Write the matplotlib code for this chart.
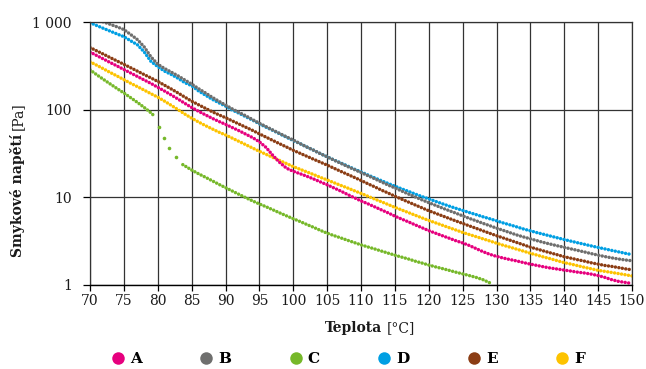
import matplotlib
matplotlib.use("Agg")
import matplotlib.pyplot as plt
from matplotlib.lines import Line2D

# temperatures [°C], one reading per degree
temps = list(range(70, 151))

shear_a = [455, 414, 378, 344, 315, 287, 262, 239, 218, 199,
           180, 163, 147, 132, 118, 106, 96, 87.5, 80, 73.5,
           68, 62.5, 57.5, 52.5, 48, 43, 37, 30, 25, 21.5,
           19.8, 18.6, 17.4, 16.2, 15.0, 13.9, 12.8, 11.8, 10.8, 9.9,
           9.1, 8.45, 7.8, 7.2, 6.65, 6.1, 5.65, 5.25, 4.85, 4.5,
           4.17, 3.9, 3.65, 3.42, 3.2, 3.02, 2.82, 2.6, 2.4, 2.24,
           2.12, 2.03, 1.95, 1.88, 1.80, 1.73, 1.67, 1.61, 1.56, 1.52,
           1.48, 1.44, 1.40, 1.37, 1.33, 1.28, 1.22, 1.15, 1.10, 1.07, 1.04]

shear_b = [1150, 1070, 1000, 940, 880, 820, 720, 630, 520, 400,
           330, 295, 268, 243, 218, 196, 174, 156, 139, 125,
           113, 102, 93, 85, 77, 70, 64, 58.5, 53.5, 49,
           45, 41, 37.5, 34.5, 31.5, 29, 26.6, 24.5, 22.5, 20.8,
           19.2, 17.7, 16.3, 15, 13.8, 12.8, 11.8, 10.9, 10.1, 9.35,
           8.7, 8.1, 7.55, 7.05, 6.6, 6.15, 5.75, 5.4, 5.05, 4.75,
           4.45, 4.2, 3.95, 3.72, 3.53, 3.36, 3.2, 3.05, 2.92, 2.8,
           2.69, 2.58, 2.48, 2.38, 2.28, 2.19, 2.11, 2.04, 1.98, 1.93, 1.89]

# C is sampled more sparsely where it drops steeply after 80 °C
temps_c = list(range(70, 80)) + [79.6, 80.2, 80.9, 81.7, 82.7, 83.7] + list(range(85, 130))
shear_c = [285, 250, 221, 196, 174, 155, 137, 121, 106, 92,
           83, 64, 48, 37, 29, 23.6,
           20.5, 18.6, 17, 15.5, 14.1, 12.9, 11.8, 10.8, 9.9, 9.1,
           8.4, 7.8, 7.2, 6.65, 6.15, 5.7, 5.3, 4.9, 4.55, 4.2,
           3.9, 3.66, 3.45, 3.24, 3.05, 2.87, 2.72, 2.58, 2.44, 2.31,
           2.19, 2.08, 1.98, 1.87, 1.78, 1.69, 1.61, 1.54, 1.47, 1.40,
           1.34, 1.28, 1.22, 1.15, 1.06]
c_sparse = (80.0, 83.0)

shear_d = [985, 910, 845, 785, 730, 680, 610, 550, 455, 355,
           310, 275, 252, 228, 203, 188, 164, 147, 132, 120,
           110, 99, 91, 83, 76, 69, 63, 58, 53, 48.5,
           44.5, 41, 37.5, 34.5, 31.5, 29, 26.7, 24.7, 22.8, 21,
           19.5, 18, 16.7, 15.5, 14.4, 13.4, 12.5, 11.7, 10.9, 10.2,
           9.6, 9.0, 8.45, 7.95, 7.5, 7.1, 6.7, 6.35, 6.0, 5.7,
           5.4, 5.1, 4.85, 4.6, 4.35, 4.15, 3.95, 3.78, 3.61, 3.45,
           3.3, 3.16, 3.03, 2.91, 2.79, 2.68, 2.58, 2.48, 2.39, 2.3, 2.22]

shear_e = [512, 468, 429, 392, 359, 329, 301, 275, 251, 230,
           210, 190, 172, 155, 139, 125, 114, 104, 95, 87.5,
           81, 74.5, 68.5, 63, 58, 53, 48.5, 44.5, 40.8, 37.5,
           34.4, 31.8, 29.4, 27.2, 25.2, 23.3, 21.5, 19.8, 18.3, 16.9,
           15.6, 14.3, 13.2, 12.1, 11.2, 10.3, 9.53, 8.83, 8.18, 7.59,
           7.03, 6.58, 6.15, 5.75, 5.38, 5.04, 4.72, 4.43, 4.15, 3.89,
           3.65, 3.44, 3.24, 3.05, 2.87, 2.70, 2.57, 2.44, 2.32, 2.21,
           2.10, 2.02, 1.94, 1.87, 1.79, 1.73, 1.67, 1.63, 1.58, 1.53, 1.49]

shear_f = [352, 321, 292, 265, 242, 220, 200, 183, 167, 152,
           139, 125, 112, 100, 89, 80, 72.5, 66, 60.5, 55.5,
           51.5, 47.3, 43.4, 39.8, 36.5, 33.5, 30.9, 28.5, 26.3, 24.3,
           22.4, 20.9, 19.5, 18.2, 16.9, 15.8, 14.7, 13.7, 12.8, 11.9,
           11.1, 10.3, 9.57, 8.91, 8.28, 7.69, 7.18, 6.70, 6.25, 5.83,
           5.45, 5.12, 4.81, 4.51, 4.24, 3.98, 3.76, 3.56, 3.36, 3.18,
           3.0, 2.84, 2.70, 2.56, 2.43, 2.30, 2.19, 2.08, 1.99, 1.89,
           1.80, 1.73, 1.66, 1.59, 1.53, 1.47, 1.43, 1.39, 1.35, 1.31, 1.27]

labels = ["A", "B", "C", "D", "E", "F"]
colors = {"A": "#e6007e", "B": "#6f6f6e", "C": "#76b82a",
          "D": "#009fe3", "E": "#8b3d14", "F": "#fdc300"}

x_ticks = list(range(70, 151, 5))
y_ticks = [1, 10, 100, 1000]
y_tick_labels = ["1", "10", "100", "1 000"]

plt.rcParams["font.family"] = "DejaVu Serif"
plt.rcParams["font.size"] = 10

W, H = 646, 369
fig = plt.figure(figsize=(W / 100, H / 100), dpi=100)
ax = fig.add_axes([90 / W, 1 - 285 / H, 542 / W, 263 / H])
ax.set_yscale("log")

dotted = dict(linestyle=(0, (0.01, 1.0)), linewidth=2.5,
              dash_capstyle="round", solid_capstyle="round")

series = {"A": shear_a, "B": shear_b, "D": shear_d, "E": shear_e, "F": shear_f}
for name in ["F", "E", "D"]:
    ax.plot(temps, series[name], color=colors[name], **dotted)

# C: dotted line where dense, single dots in the steep drop
lo, hi = c_sparse
seg1 = [(t, v) for t, v in zip(temps_c, shear_c) if t < lo]
seg2 = [(t, v) for t, v in zip(temps_c, shear_c) if lo <= t <= hi]
seg3 = [(t, v) for t, v in zip(temps_c, shear_c) if t > hi]
for seg in (seg1, seg3):
    ax.plot([p[0] for p in seg], [p[1] for p in seg], color=colors["C"], **dotted)
ax.plot([p[0] for p in seg2], [p[1] for p in seg2], linestyle="none",
        marker="o", markersize=2.6, markeredgewidth=0, color=colors["C"])

for name in ["B", "A"]:
    ax.plot(temps, series[name], color=colors[name], **dotted)

ax.set_xlim(70, 150)
ax.set_ylim(1, 1000)
ax.set_xticks(x_ticks)
ax.set_yticks(y_ticks)
ax.set_yticklabels(y_tick_labels)
ax.minorticks_off()

grid_col = "#333333"
ax.grid(True, color=grid_col, linewidth=0.9)
ax.set_axisbelow(True)
for side in ["top", "right", "left"]:
    ax.spines[side].set_color(grid_col)
    ax.spines[side].set_linewidth(0.9)
ax.spines["bottom"].set_color("black")
ax.spines["bottom"].set_linewidth(1.0)
ax.tick_params(axis="x", length=4, width=0.9, pad=2.5, labelcolor="#1a1a1a")
ax.tick_params(axis="y", length=5, width=0.9, pad=8, labelcolor="#1a1a1a")

# axis titles: bold name + regular unit
renderer = fig.canvas.get_renderer()

t1 = fig.text(0, 0, "Teplota", weight="bold", color="#1a1a1a", va="center")
t2 = fig.text(0, 0, "[°C]", color="#1a1a1a", va="center")
w1 = t1.get_window_extent(renderer).width
w2 = t2.get_window_extent(renderer).width
gap = 4
x0 = 370 - (w1 + gap + w2) / 2
t1.set_position((x0 / W, 1 - 328 / H))
t2.set_position(((x0 + w1 + gap) / W, 1 - 328 / H))

s1 = fig.text(18 / W, 1 - 257 / H, "Smykové napětí", weight="bold", rotation=90,
              color="#1a1a1a", ha="center", va="bottom")
h1 = s1.get_window_extent(renderer).height
s2 = fig.text(18 / W, 1 - (257 - h1 - gap) / H, "[Pa]", rotation=90,
              color="#1a1a1a", ha="center", va="bottom")

handles = [Line2D([], [], linestyle="none", marker="o", markersize=9,
                  markeredgewidth=0, color=colors[n]) for n in labels]
fig.legend(handles, labels, ncol=6, loc="center", bbox_to_anchor=(348 / W, 1 - 359 / H),
           frameon=False, handlelength=0.9, handletextpad=0.35, columnspacing=3.75,
           prop={"weight": "bold", "size": 11}, borderpad=0)

fig.savefig("out.png", dpi=100)
